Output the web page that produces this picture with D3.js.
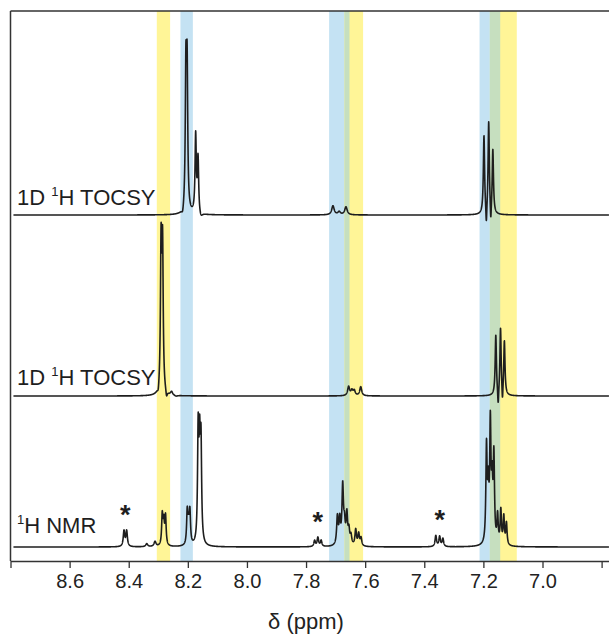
<!DOCTYPE html>
<html>
<head>
<meta charset="utf-8">
<script src="https://cdn.jsdelivr.net/npm/d3@7"></script>
<style>
  body { margin: 0; background: #fff; }
  svg { display: block; }
</style>
</head>
<body>
<script>
// peak lists: [ppm, height, half width (ppm)]
// heights are in plot units (1 unit = 1 px above the trace baseline)
var tocsyTopPeaks = [
    [8.2175, -6, 0.004],
    [8.2065, 135, 0.0025],
    [8.2025, 135, 0.0025],
    [8.1735, 78, 0.0025],
    [8.1655, 55, 0.0025],
    [8.156, -5, 0.006],
    [7.709, 9, 0.005],
    [7.688, 3, 0.005],
    [7.665, 8, 0.005],
    [7.198, 78, 0.0025],
    [7.190, -21, 0.002],
    [7.182, 92, 0.0025],
    [7.175, -20, 0.002],
    [7.168, 64, 0.0025]
];
var tocsyMidPeaks = [
    [8.300, -6, 0.003],
    [8.2905, 145, 0.0025],
    [8.2855, 142, 0.0025],
    [8.272, -7, 0.003],
    [8.255, 3.5, 0.004],
    [8.240, -1, 0.006],
    [7.656, 9, 0.004],
    [7.645, 5, 0.004],
    [7.637, 5, 0.004],
    [7.615, 9, 0.004],
    [7.158, 60, 0.0025],
    [7.150, -18, 0.002],
    [7.142, 67, 0.0025],
    [7.1355, -17, 0.002],
    [7.129, 54, 0.0025]
];
var nmrPeaks = [
    [8.416, 15.5, 0.003],
    [8.407, 15.5, 0.003],
    [8.339, 3, 0.004],
    [8.311, 5, 0.004],
    [8.2865, 30, 0.0025],
    [8.2815, 22, 0.0025],
    [8.2755, 29, 0.0025],
    [8.202, 33, 0.0025],
    [8.1975, 18, 0.0025],
    [8.193, 32, 0.0025],
    [8.165, 110, 0.0025],
    [8.160, 88, 0.0025],
    [8.1555, 95, 0.0025],
    [7.771, 6, 0.003],
    [7.760, 9, 0.003],
    [7.749, 6, 0.003],
    [7.694, 28, 0.003],
    [7.686, 24, 0.003],
    [7.676, 58, 0.003],
    [7.670, 18, 0.003],
    [7.662, 30, 0.003],
    [7.655, 14, 0.003],
    [7.648, 9, 0.003],
    [7.632, 16, 0.003],
    [7.622, 12, 0.003],
    [7.614, 8, 0.003],
    [7.361, 11, 0.003],
    [7.348, 10, 0.003],
    [7.337, 8, 0.003],
    [7.1895, 95, 0.0025],
    [7.1835, 50, 0.0025],
    [7.1765, 116, 0.0025],
    [7.1705, 52, 0.0025],
    [7.1645, 85, 0.0025],
    [7.152, 28, 0.0025],
    [7.141, 34, 0.0025],
    [7.131, 28, 0.0025],
    [7.122, 22, 0.0025]
];

// stacking offsets of each trace (plot units above the 1H NMR baseline)
var traceOffsets = [332, 151, 0];

// highlighted regions [from ppm, to ppm]
var blueBands = [[8.225, 8.183], [7.722, 7.653], [7.213, 7.143]];
var yellowBands = [[8.305, 8.260], [7.670, 7.607], [7.178, 7.087]];

// impurity marks
var starPpm = [8.4115, 7.760, 7.348];

var majorTicks = [8.8, 8.6, 8.4, 8.2, 8.0, 7.8, 7.6, 7.4, 7.2, 7.0, 6.8];
var minorTicks = [8.7, 8.5, 8.3, 8.1, 7.9, 7.7, 7.5, 7.3, 7.1, 6.9];
var labelledTicks = [8.6, 8.4, 8.2, 8.0, 7.8, 7.6, 7.4, 7.2, 7.0];

var W = 609, H = 634;
var plotLeft = 10.5, plotTop = 11, axisY = 561;

var svg = d3.select('body').append('svg')
    .attr('width', W)
    .attr('height', H);

var x = d3.scaleLinear().domain([8.8, 6.775]).range([plotLeft, W]);
var y = d3.scaleLinear().domain([0, 536]).range([547, plotTop]);

var font = '"Liberation Sans", Arial, Helvetica, sans-serif';

// Bands
function drawBands(list, color) {
    svg.append('g').selectAll('rect').data(list).enter().append('rect')
        .attr('x', function(d) { return x(d[0]); })
        .attr('width', function(d) { return x(d[1]) - x(d[0]); })
        .attr('y', plotTop)
        .attr('height', axisY - plotTop)
        .attr('fill', color);
}
drawBands(blueBands, '#c4e2f3');
drawBands(yellowBands, '#fff597');

// overlap of blue and yellow shows green
var overlaps = [];
blueBands.forEach(function(b) {
    yellowBands.forEach(function(yb) {
        var a = Math.min(b[0], yb[0]), z = Math.max(b[1], yb[1]);
        if (a > z) overlaps.push([a, z]);
    });
});
drawBands(overlaps, '#c6dfbf');

// Spectra
function spectrum(peaks) {
    var pts = [];
    for (var p = 8.79; p >= 6.775; p -= 0.0003) {
        var s = 0;
        for (var i = 0; i < peaks.length; i++) {
            var d = (p - peaks[i][0]) / peaks[i][2];
            s += peaks[i][1] / (1 + d * d);
        }
        pts.push([p, s]);
    }
    return pts;
}

var allPeaks = [tocsyTopPeaks, tocsyMidPeaks, nmrPeaks];
var curves = allPeaks.map(spectrum);

curves.forEach(function(c, i) {
    var off = traceOffsets[i];
    svg.append('path')
        .datum(c)
        .attr('fill', 'none')
        .attr('stroke', '#1e1e1e')
        .attr('stroke-width', 1.6)
        .attr('stroke-linejoin', 'round')
        .attr('d', d3.line()
            .x(function(d) { return x(d[0]); })
            .y(function(d) { return y(d[1] + off); }));
});

// Frame: top and left lines
svg.append('line')
    .attr('x1', plotLeft).attr('x2', W)
    .attr('y1', plotTop).attr('y2', plotTop)
    .attr('stroke', '#333').attr('stroke-width', 1.5);
svg.append('line')
    .attr('x1', plotLeft).attr('x2', plotLeft)
    .attr('y1', plotTop).attr('y2', axisY)
    .attr('stroke', '#333').attr('stroke-width', 1.5);

// Axis
var axisG = svg.append('g').attr('transform', 'translate(0,' + axisY + ')');
axisG.call(d3.axisBottom(x).tickValues(minorTicks).tickSize(4).tickFormat(''));
axisG.call(d3.axisBottom(x).tickValues(majorTicks).tickSize(7).tickSizeOuter(0)
    .tickPadding(6)
    .tickFormat(function(d) { return labelledTicks.indexOf(d) >= 0 ? d3.format('.1f')(d) : ''; }));
axisG.selectAll('path.domain').attr('stroke', '#333').attr('stroke-width', 1.5);
axisG.selectAll('line').attr('stroke', '#333').attr('stroke-width', 1.3);
axisG.selectAll('text')
    .attr('fill', '#222')
    .style('font-family', font)
    .style('font-size', '20px');

svg.append('text')
    .attr('x', 306)
    .attr('y', 629)
    .attr('text-anchor', 'middle')
    .attr('fill', '#222')
    .style('font-family', font)
    .style('font-size', '22px')
    .text('δ (ppm)');

// Trace labels
function traceLabel(yb, pre, post) {
    var t = svg.append('text')
        .attr('x', 17)
        .attr('y', yb)
        .attr('fill', '#1e1e1e')
        .style('font-family', font)
        .style('font-size', '22px');
    if (pre) t.append('tspan').text(pre);
    t.append('tspan').attr('dy', -9).style('font-size', '13px').text('1');
    t.append('tspan').attr('dy', 9).text(post);
}
traceLabel(y(traceOffsets[0]) - 10, '1D ', 'H TOCSY');
traceLabel(y(traceOffsets[1]) - 11, '1D ', 'H TOCSY');
traceLabel(y(traceOffsets[2]) - 14, '', 'H NMR');

// Asterisks above impurity peaks
var nmr = curves[2];
svg.selectAll('text.star').data(starPpm).enter().append('text')
    .attr('class', 'star')
    .attr('x', function(d) { return x(d); })
    .attr('y', function(d) {
        var near = nmr.filter(function(p) { return Math.abs(p[0] - d) < 0.02; });
        return y(d3.max(near, function(p) { return p[1]; })) - 6;
    })
    .attr('text-anchor', 'middle')
    .attr('fill', '#1e1e1e')
    .style('font-family', font)
    .style('font-weight', 'bold')
    .style('font-size', '27px')
    .text('*');
</script>
</body>
</html>
